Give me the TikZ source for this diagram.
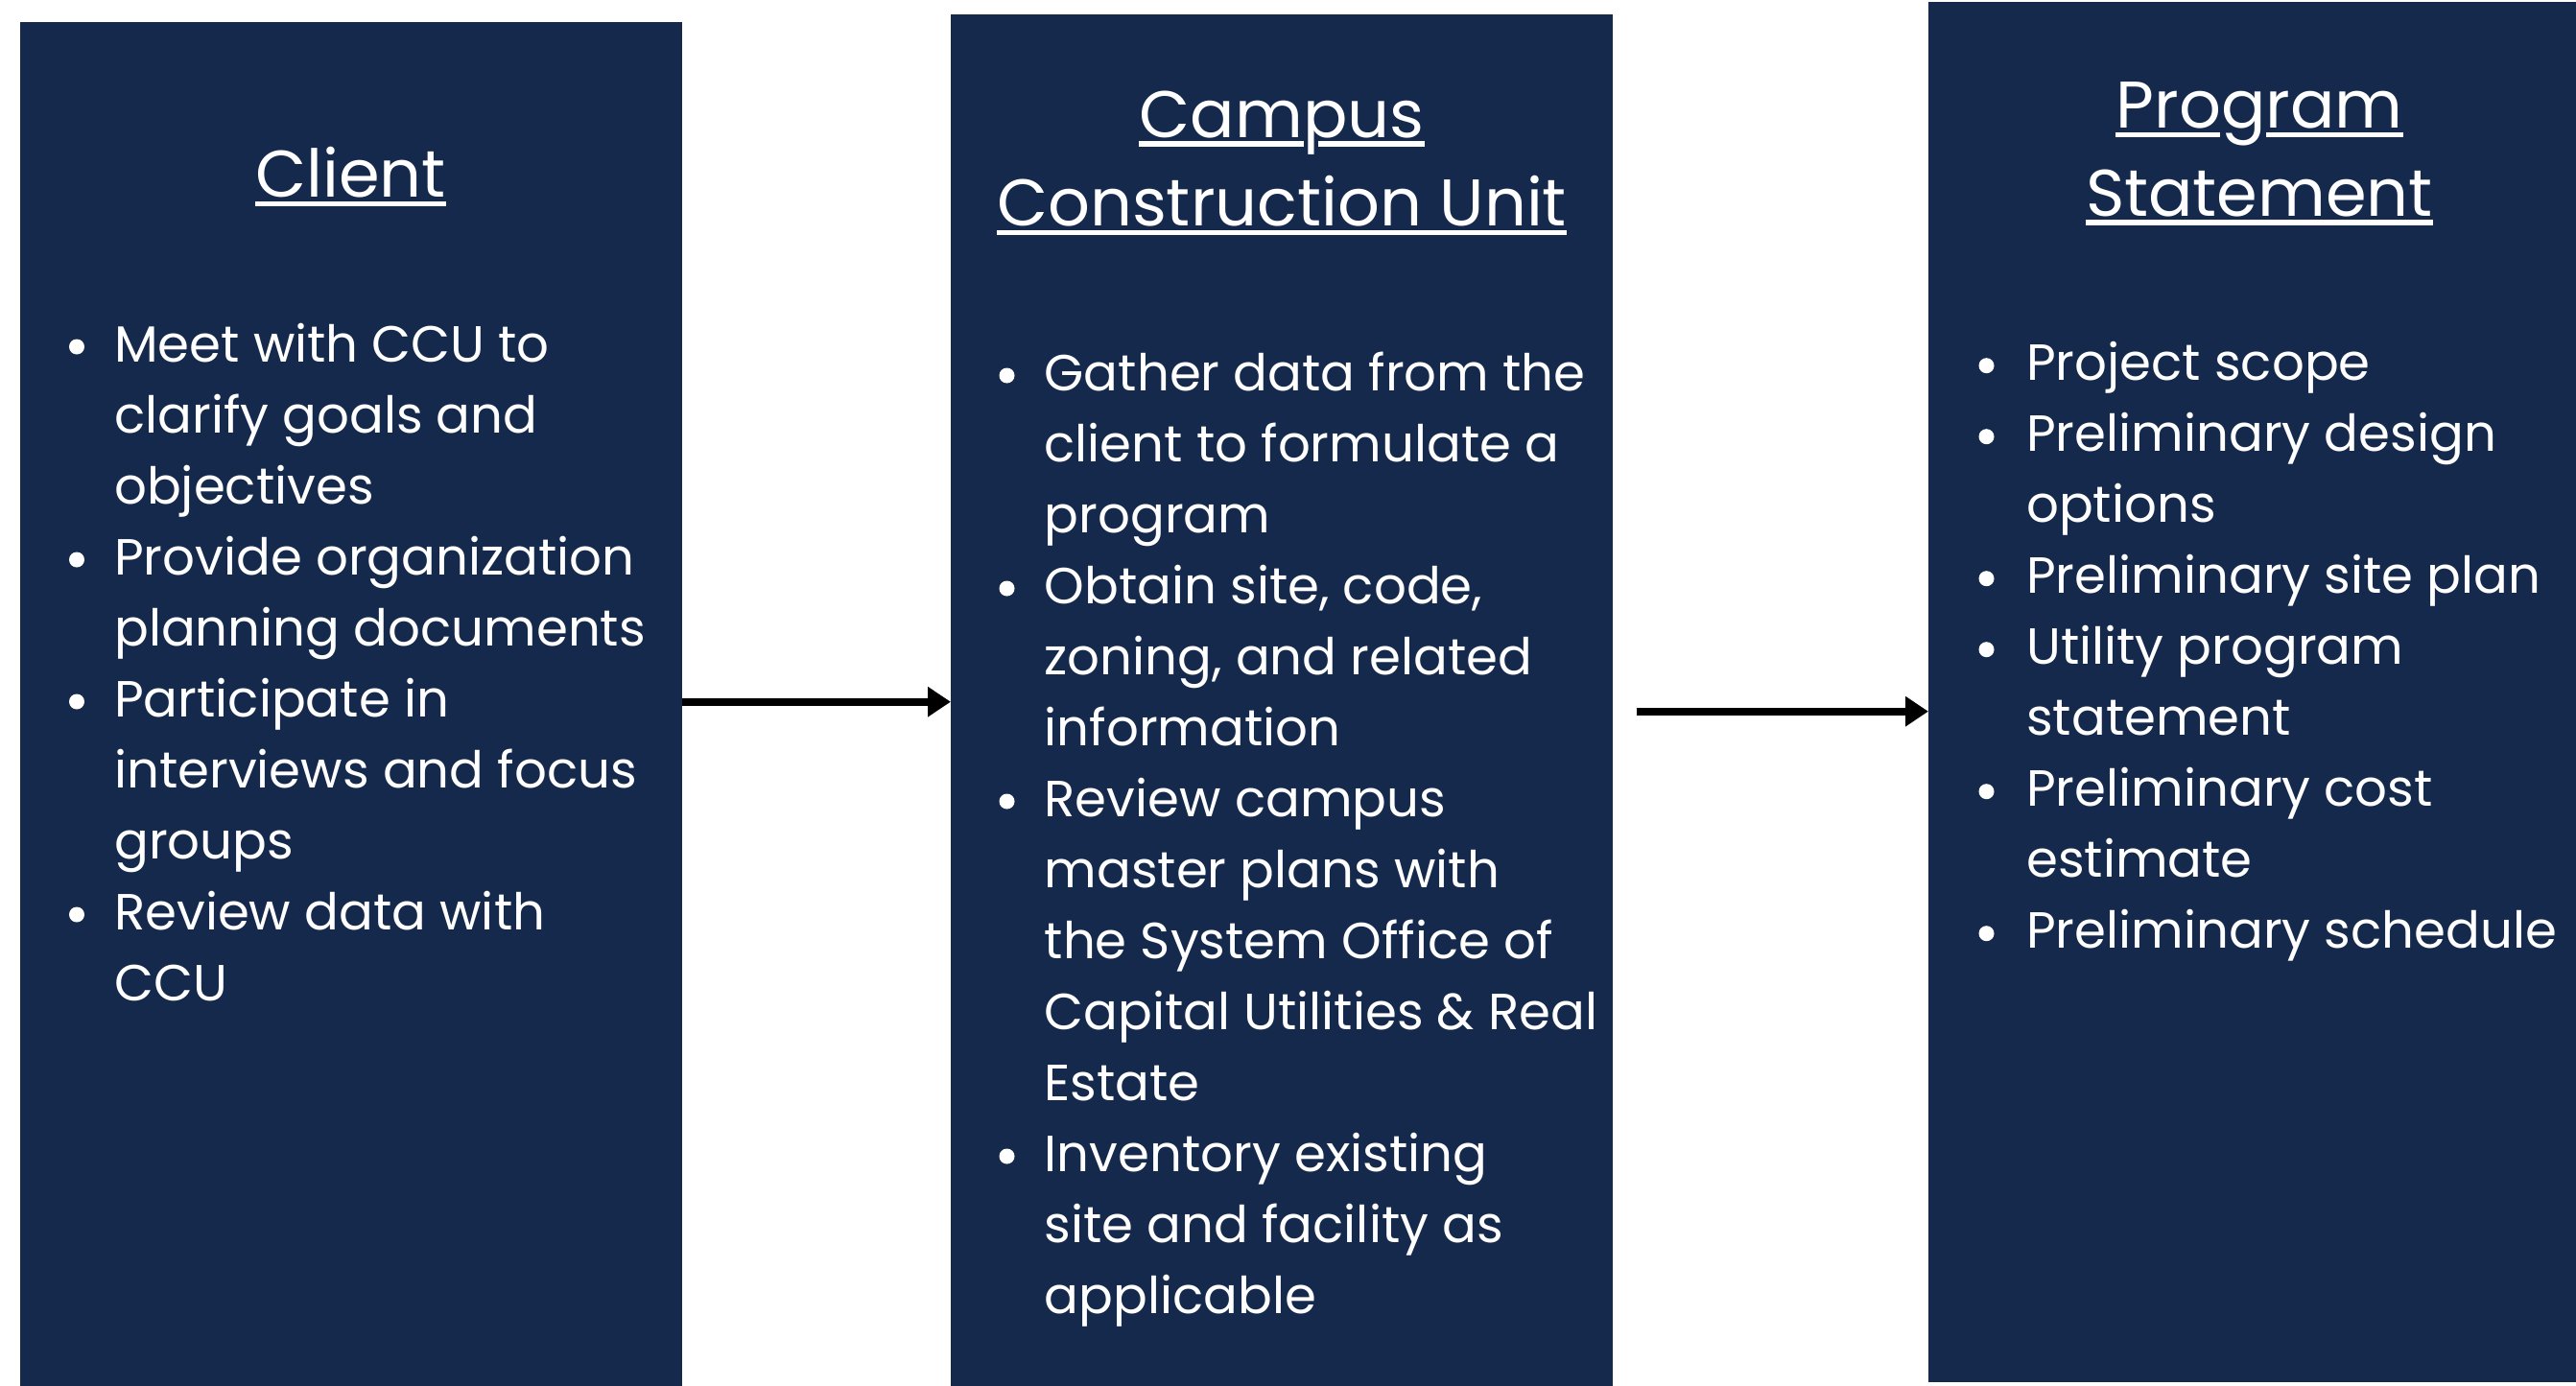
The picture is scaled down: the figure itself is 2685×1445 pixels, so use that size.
\documentclass[tikz,border=0pt]{standalone}
\usepackage{fontspec}
\setmainfont{Poppins}
\usetikzlibrary{arrows.meta}
\definecolor{navy}{HTML}{14294B}
\newlength\mylen
\newcommand\mybodyfont{\fontsize{\bsz pt}{74pt}\selectfont}
\newcommand\mytitlefont{\fontsize{\tsz pt}{92pt}\selectfont}
\newcommand\putlines[4]{%
  \foreach \t [count=\i from 0] in {#4} {
    \node[txt] (#1-\i) at (#2,#3+74*\i) {\t};
  }}
\newcommand\putbullets[4]{%
  \foreach \k in {#4} {
    \fill[white] (#2,#3+74*\k-15.5) circle [radius=8];
  }}
\newcommand\gmeasure[2]{\settowidth\mylen{#2}\pgfmathsetmacro#1{\mylen}\global\let#1#1}
\begin{document}
\gmeasure\wGather{\fontsize{10pt}{12pt}\selectfont Gather data from the}%
\gmeasure\wConstr{\fontsize{10pt}{12pt}\selectfont Construction Unit}%
\pgfmathsetmacro\bsz{10*564/\wGather}\global\let\bsz\bsz
\pgfmathsetmacro\tsz{10*594/\wConstr}\global\let\tsz\tsz
\gmeasure\wCam{\mytitlefont Cam}%
\gmeasure\wPro{\mytitlefont Pro}%
\gmeasure\wProg{\mytitlefont Prog}%
\pgfmathsetmacro\gA{\wCam+0.01*\tsz}\global\let\gA\gA
\pgfmathsetmacro\gB{\wCam+0.24*\tsz}\global\let\gB\gB
\pgfmathsetmacro\gC{\wPro-0.01*\tsz}\global\let\gC\gC
\pgfmathsetmacro\gD{\wProg+0.01*\tsz}\global\let\gD\gD
\begin{tikzpicture}[x=1pt,y=-1pt,
  box/.style={fill=navy, draw=none, inner sep=0pt, outer sep=0pt, anchor=north west},
  txt/.style={inner sep=0pt, anchor=base west, text=white, font=\mybodyfont},
  ttl/.style={inner sep=0pt, anchor=base, text=white, font=\mytitlefont},
  uline/.style={draw=white, line width=5.5pt},
  arr/.style={draw=black, line width=8pt, -{Triangle[length=24pt,width=30pt]}}]
% background and bounding box
\fill[white] (0,0) rectangle (2685,1445);
\useasboundingbox (0,0) rectangle (2685,1445);
% boxes
\node[box, minimum width=690pt, minimum height=1432pt] (client) at (20.5,23) {};
\node[box, minimum width=690pt, minimum height=1440pt] (ccu) at (991,15) {};
\node[box, minimum width=700pt, minimum height=1439pt] (ps) at (2010,2) {};
% titles
\node[ttl] (t1) at (365.5,205.5) {Client};
\node[ttl] (t2a) at (1336,143) {Campus};
\node[ttl] (t2b) at (1336,235.7) {Construction Unit};
\node[ttl] (t3a) at (2355,133.3) {Program};
\node[ttl] (t3b) at (2355,225) {Statement};
% underlines
\draw[uline] ([yshift=-7pt]t1.base west) -- ([yshift=-7pt]t1.base east);
\draw[uline] ([yshift=-7pt]t2b.base west) -- ([yshift=-7pt]t2b.base east);
\draw[uline] ([yshift=-7pt]t3b.base west) -- ([yshift=-7pt]t3b.base east);
\draw[uline] ([yshift=-7pt]t2a.base west) -- ([yshift=-7pt,xshift=\gA pt]t2a.base west);
\draw[uline] ([yshift=-7pt,xshift=\gB pt]t2a.base west) -- ([yshift=-7pt]t2a.base east);
\draw[uline] ([yshift=-7pt]t3a.base west) -- ([yshift=-7pt,xshift=\gC pt]t3a.base west);
\draw[uline] ([yshift=-7pt,xshift=\gD pt]t3a.base west) -- ([yshift=-7pt]t3a.base east);
% body text
\putlines{cl}{119}{377}{{Meet with CCU to},{clarify goals and},{objectives},{Provide organization},{planning documents},{Participate in},{interviews and focus},{groups},{Review data with},{CCU}}
\putbullets{cl}{80}{377}{0,3,5,8}
\putlines{cc}{1088.5}{407}{{Gather data from the},{client to formulate a},{program},{Obtain site, code,},{zoning, and related},{information},{Review campus},{master plans with},{the System Office of},{Capital Utilities \& Real},{Estate},{Inventory existing},{site and facility as},{applicable}}
\putbullets{cc}{1049.5}{407}{0,3,6,11}
\putlines{pr}{2112}{396.7}{{Project scope},{Preliminary design},{options},{Preliminary site plan},{Utility program},{statement},{Preliminary cost},{estimate},{Preliminary schedule}}
\putbullets{pr}{2070.5}{396.7}{0,1,3,4,6,8}
% arrows
\coordinate (a1y) at (0,731.7);
\coordinate (a2s) at (1705.7,741.7);
\draw[arr] (client.east |- a1y) -- (ccu.west |- a1y);
\draw[arr] (a2s) -- (ps.west |- a2s);
\end{tikzpicture}
\end{document}
